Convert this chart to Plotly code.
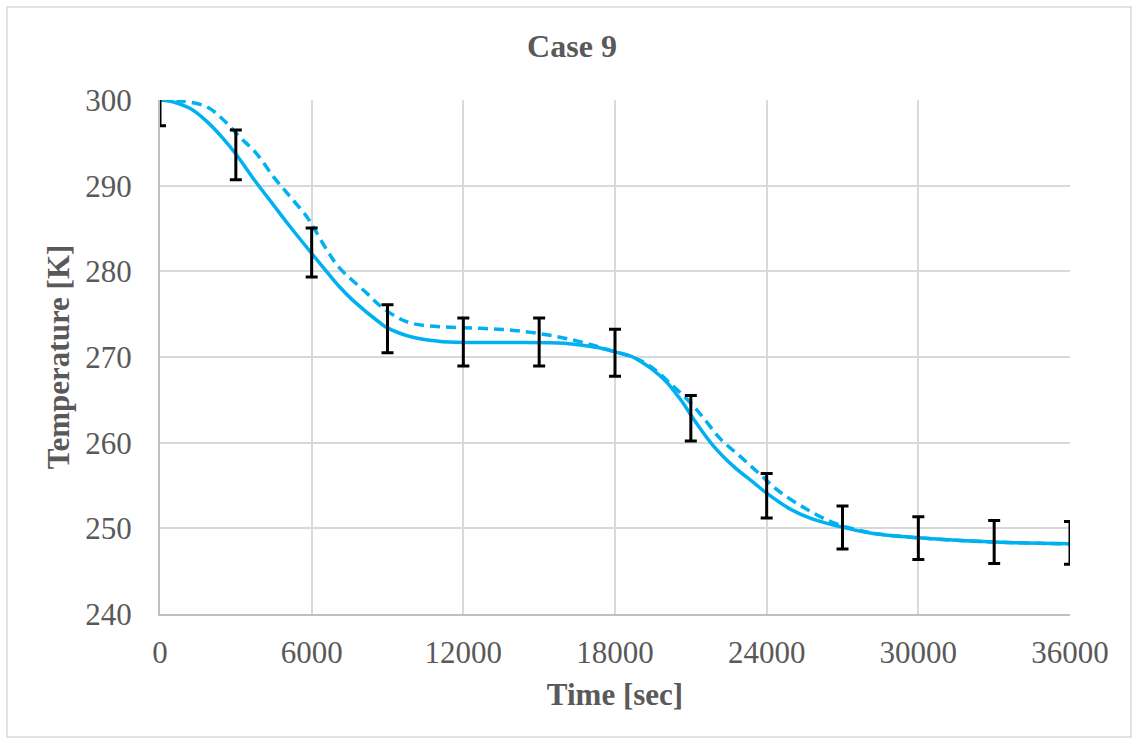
import plotly.graph_objects as go

# ---- data ----
t_sim = [0, 500, 1200, 1850, 2500, 3000, 3800, 4500, 5150, 6000, 7100, 7600, 8700, 9000,
         10000, 11000, 12000, 14000, 16000, 17300, 18000, 18700, 19000, 19500, 20000, 20600, 21100,
         21900, 22700, 23500, 24000, 24900, 25800, 26900, 28200, 30000, 31500, 33000, 34800, 36000]
T_sim = [300.0, 299.8, 299.0, 297.5, 295.5, 293.7, 290.4, 287.7, 285.2, 282.1, 278.2, 276.7, 274.0, 273.4,
         272.3, 271.85, 271.7, 271.7, 271.6, 271.1, 270.6, 270.0, 269.5, 268.5, 267.2, 265.0, 262.8,
         259.6, 257.2, 255.3, 254.1, 252.3, 251.1, 250.2, 249.4, 248.9, 248.6, 248.4, 248.25, 248.2]

t_dash = [0, 800, 1850, 2500, 3150, 3800, 4500, 5150, 5800, 6100, 6600, 7100, 8200, 8700, 9400,
          10000, 11300, 12700, 14000, 15300, 16600, 17900, 18600, 19000, 19500, 20300, 21000, 21500,
          22150, 22950, 23700, 24500, 25600, 26600, 27600, 28500, 30000, 31500, 33000, 34800, 36000]
T_dash = [300.0, 299.9, 299.2, 297.7, 295.7, 293.8, 291.0, 288.7, 286.4, 285.0, 282.5, 280.4, 277.4, 276.0, 274.6,
          273.9, 273.5, 273.35, 273.1, 272.6, 271.8, 270.7, 270.1, 269.6, 268.7, 266.6, 264.6, 262.9,
          260.5, 258.4, 256.4, 254.3, 252.2, 250.7, 249.8, 249.3, 248.9, 248.6, 248.4, 248.25, 248.2]

t_exp = [0, 3000, 6000, 9000, 12000, 15000, 18000, 21000, 24000, 27000, 30000, 33000, 36000]
T_exp = [300.0, 293.6, 282.2, 273.3, 271.75, 271.75, 270.5, 262.85, 253.8, 250.1, 248.85, 248.4, 248.3]
T_err = [3.0, 2.9, 2.85, 2.8, 2.8, 2.8, 2.75, 2.65, 2.6, 2.5, 2.5, 2.5, 2.5]

x_ticks = [0, 6000, 12000, 18000, 24000, 30000, 36000]
y_ticks = [240, 250, 260, 270, 280, 290, 300]

title_text = "Case 9"
x_title = "Time [sec]"
y_title = "Temperature [K]"

# ---- figure ----
BLUE = "#00B0F0"
GREY = "#595959"
FONT = "Liberation Serif, Times New Roman, serif"

fig = go.Figure()
fig.add_trace(go.Scatter(x=t_dash, y=T_dash, mode="lines",
                         line=dict(color=BLUE, width=3.5, dash="10px,6px", shape="spline", smoothing=1.0),
                         showlegend=False, hoverinfo="skip"))
fig.add_trace(go.Scatter(x=t_sim, y=T_sim, mode="lines",
                         line=dict(color=BLUE, width=3.5, shape="spline", smoothing=1.0),
                         showlegend=False, hoverinfo="skip"))
fig.add_trace(go.Scatter(x=t_exp, y=T_exp, mode="markers", marker=dict(size=1, color="rgba(0,0,0,0)"),
                         error_y=dict(type="data", array=T_err, visible=True, color="black", thickness=3, width=6),
                         showlegend=False))

W, H = 1138, 744
L, R, T, B = 160, 68, 100, 130
pw, ph = W - L - R, H - T - B

fig.update_layout(
    width=W, height=H,
    margin=dict(l=L, r=R, t=T, b=B),
    paper_bgcolor="white", plot_bgcolor="white",
    font=dict(family=FONT, color=GREY, size=31),
    title=dict(text="<b>" + title_text + "</b>", x=572 / W, xref="container", xanchor="center",
               y=1 - 46 / H, yref="container", yanchor="middle", font=dict(size=32, color=GREY, family=FONT)),
    xaxis=dict(range=[0, 36000], tickvals=x_ticks, ticktext=[str(v) for v in x_ticks],
               showgrid=True, gridcolor="#d9d9d9", gridwidth=2, zeroline=False,
               showline=True, linecolor="#bfbfbf", linewidth=2, ticks="", ticklabelstandoff=10,
               tickfont=dict(size=31, color=GREY, family=FONT),
               title=dict(text="<b>" + x_title + "</b>", standoff=14, font=dict(size=31, color=GREY, family=FONT))),
    yaxis=dict(range=[240, 300], tickvals=y_ticks, ticktext=[str(v) for v in y_ticks],
               showgrid=True, gridcolor="#d9d9d9", gridwidth=2, zeroline=False,
               showline=True, linecolor="#bfbfbf", linewidth=2, ticks="", ticklabelstandoff=20,
               tickfont=dict(size=31, color=GREY, family=FONT),
               title=dict(text="<b>" + y_title + "</b>", standoff=6, font=dict(size=31, color=GREY, family=FONT))),
)

# outer chart border
fig.add_shape(type="rect", xref="paper", yref="paper",
              x0=(7 - L) / pw, x1=(1131 - L) / pw, y0=(H - B - 737) / ph, y1=(H - B - 7) / ph,
              line=dict(color="#d9d9d9", width=1.5), fillcolor="rgba(0,0,0,0)", layer="below")

fig.write_html("out.html", config={"displayModeBar": False},
               post_script="document.body.style.margin='0';document.body.style.overflow='hidden';")
